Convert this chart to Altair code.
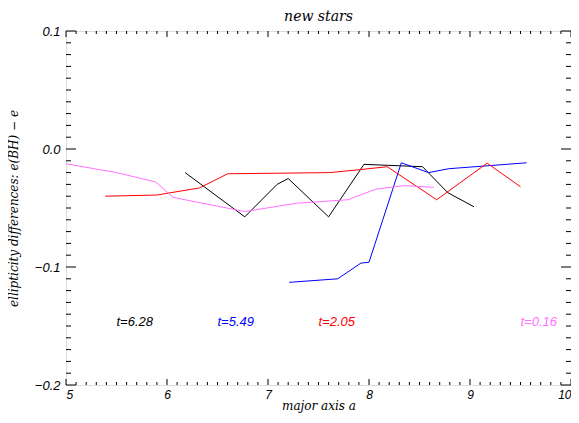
import altair as alt
import pandas as pd
import numpy as np

# ---- data ----
mag_x = [5.00, 5.50, 5.89, 6.06, 6.77, 7.28, 7.79, 8.07, 8.35, 8.64]
mag_y = [-0.0125, -0.020, -0.028, -0.041, -0.053, -0.046, -0.043, -0.034, -0.031, -0.0325]

red_x = [5.39, 5.90, 6.32, 6.60, 7.61, 7.91, 8.18, 8.67, 9.17, 9.50]
red_y = [-0.040, -0.039, -0.033, -0.021, -0.020, -0.0175, -0.015, -0.043, -0.012, -0.032]

blk_x = [6.18, 6.77, 7.09, 7.20, 7.60, 7.95, 8.53, 8.78, 9.04]
blk_y = [-0.020, -0.0575, -0.030, -0.025, -0.0575, -0.013, -0.015, -0.037, -0.049]

blu_x = [7.21, 7.69, 7.92, 8.00, 8.32, 8.59, 8.79, 9.56]
blu_y = [-0.113, -0.110, -0.0967, -0.096, -0.0117, -0.020, -0.0167, -0.0117]

series_names = ["t=6.28", "t=5.49", "t=2.05", "t=0.16"]
series_colors = ["#000000", "#0000ff", "#ff0000", "#ff70ff"]
label_x = [5.5, 6.5, 7.5, 9.5]
label_y = [-0.15, -0.15, -0.15, -0.15]

x_major = [5, 6, 7, 8, 9, 10]
y_major = [-0.2, -0.1, 0.0, 0.1]

W, H = 505, 354

rows = []
for name, xs, ys in [("t=6.28", blk_x, blk_y), ("t=5.49", blu_x, blu_y),
                     ("t=2.05", red_x, red_y), ("t=0.16", mag_x, mag_y)]:
    for i, (a, b) in enumerate(zip(xs, ys)):
        rows.append({"series": name, "x": a, "y": b, "i": i})
lines_df = pd.DataFrame(rows)
labels_df = pd.DataFrame({"series": series_names, "x": label_x, "y": label_y})

x_minor = [round(v, 2) for v in np.arange(5.1, 10.0, 0.1) if abs(v - round(v)) > 1e-6]
y_minor = [round(v, 3) for v in np.arange(-0.19, 0.1, 0.01) if abs(v * 10 - round(v * 10)) > 1e-6]
xmaj_df = pd.DataFrame({"v": x_major})
xmin_df = pd.DataFrame({"v": x_minor})
ymaj_df = pd.DataFrame({"v": y_major})
ymin_df = pd.DataFrame({"v": y_minor})

xscale = alt.Scale(domain=[5, 10], nice=False, zero=False)
yscale = alt.Scale(domain=[-0.2, 0.1], nice=False, zero=False)
cscale = alt.Scale(domain=series_names, range=series_colors)

serif = "DejaVu Serif"
sans = "Liberation Sans"

base_lines = alt.Chart(lines_df).mark_line(strokeWidth=1, clip=True).encode(
    x=alt.X("x:Q", scale=xscale,
            axis=alt.Axis(values=x_major, format="d", ticks=False, domain=False, grid=False,
                          labelFont=sans, labelFontStyle="italic", labelFontSize=12,
                          labelPadding=4, title="major axis a", titleFont=serif,
                          titleFontStyle="italic", titleFontWeight="normal",
                          titleFontSize=12, titlePadding=0, labelColor="black", titleColor="black")),
    y=alt.Y("y:Q", scale=yscale,
            axis=alt.Axis(values=y_major, format=".1f", ticks=False, domain=False, grid=False,
                          labelFont=sans, labelFontStyle="italic", labelFontSize=13,
                          labelPadding=6, title="ellipticity differences:  e(BH)  \u2212  e",
                          titleFont=serif, titleFontStyle="italic", titleFontWeight="normal",
                          titleFontSize=12, titlePadding=14, labelColor="black", titleColor="black")),
    color=alt.Color("series:N", scale=cscale, legend=None),
    detail="series:N",
    order="i:Q",
)

labels = alt.Chart(labels_df).mark_text(align="left", baseline="alphabetic", font=sans,
                                        fontStyle="italic", fontSize=13).encode(
    x=alt.X("x:Q", scale=xscale), y=alt.Y("y:Q", scale=yscale),
    text="series:N",
    color=alt.Color("series:N", scale=cscale, legend=None),
)

def xticks(df, length, bottom=True):
    if bottom:
        return alt.Chart(df).mark_rule(color="black", strokeWidth=1).encode(
            x=alt.X("v:Q", scale=xscale), y=alt.value(H), y2=alt.value(H - length))
    return alt.Chart(df).mark_rule(color="black", strokeWidth=1).encode(
        x=alt.X("v:Q", scale=xscale), y=alt.value(0), y2=alt.value(length))

def yticks(df, length, left=True):
    if left:
        return alt.Chart(df).mark_rule(color="black", strokeWidth=1).encode(
            y=alt.Y("v:Q", scale=yscale), x=alt.value(0), x2=alt.value(length))
    return alt.Chart(df).mark_rule(color="black", strokeWidth=1).encode(
        y=alt.Y("v:Q", scale=yscale), x=alt.value(W), x2=alt.value(W - length))

ticks = [
    xticks(xmaj_df, 6, True), xticks(xmin_df, 3, True),
    xticks(xmaj_df, 6, False), xticks(xmin_df, 3, False),
    yticks(ymaj_df, 10, True), yticks(ymin_df, 5, True),
    yticks(ymaj_df, 10, False), yticks(ymin_df, 5, False),
]

chart = alt.layer(base_lines, labels, *ticks).properties(
    width=W, height=H,
    title=alt.TitleParams("new stars", font=serif, fontStyle="italic", fontWeight="normal",
                          fontSize=14, offset=1, color="black"),
    autosize=alt.AutoSizeParams(type="none"),
    padding={"left": 58, "top": 23, "right": 0, "bottom": 30},
).configure_view(stroke="black", strokeWidth=1.5).configure(background="white")

chart.save("out.html", embed_options={"renderer": "svg", "actions": False})
